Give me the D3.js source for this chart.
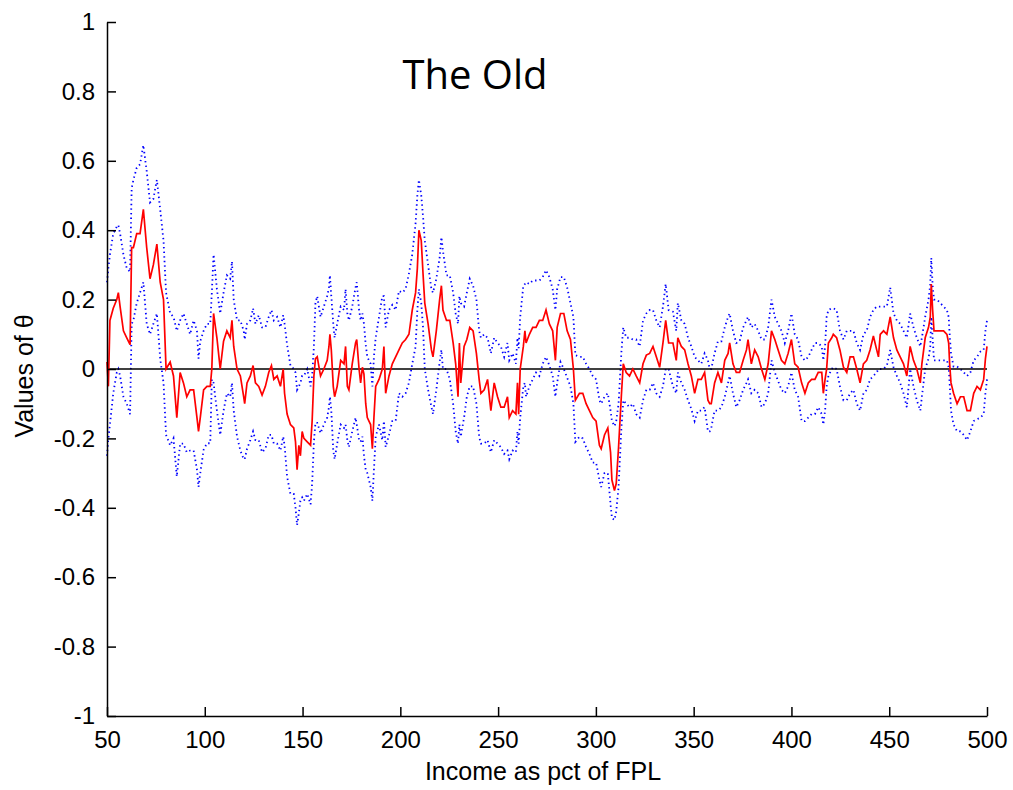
<!DOCTYPE html>
<html>
<head>
<meta charset="utf-8">
<script src="https://cdn.jsdelivr.net/npm/d3@7"></script>
<style>
  html, body { margin: 0; padding: 0; background: #fff; }
  svg { display: block; }
  text { font-family: "Liberation Sans", Arial, sans-serif; fill: #000; }
</style>
</head>
<body>
<svg id="chart" width="1013" height="790"></svg>
<script>
// ---- data ----
const titleText = "The Old";
const xLabel = "Income as pct of FPL";
const yLabel = "Values of θ";
const xTicks = [50, 100, 150, 200, 250, 300, 350, 400, 450, 500];
const yTicks = [-1, -0.8, -0.6, -0.4, -0.2, 0, 0.2, 0.4, 0.6, 0.8, 1];
const yTickLabels = ["-1", "-0.8", "-0.6", "-0.4", "-0.2", "0", "0.2", "0.4", "0.6", "0.8", "1"];

const income = [
  50, 50.7, 51.5, 53.2, 55.0, 55.8, 56.7, 58.4, 60.1, 61.8,
  62.6, 63.5, 65.2, 66.9, 68.6, 70.3, 72.0, 73.7, 75.5, 77.2,
  78.9, 80.2, 82.3, 84.0, 85.7, 87.4, 89.1, 90.8, 92.5, 94.3,
  96.0, 96.8, 97.7, 99.4, 101.1, 102.8, 103.6, 104.5, 106.2, 107.9,
  109.6, 111.3, 113.0, 113.9, 114.8, 116.5, 118.2, 119.9,
  120.4, 121.6, 123.3, 124.7, 125.9, 127.6, 129.3, 131.0, 132.7, 134.1,
  135.3, 137.0, 138.7, 140.1, 140.8, 142.1, 143.8, 145.5, 146.4, 147.2,
  148.1, 148.9, 149.8, 150.7, 152.4, 154.1, 154.9, 155.8, 156.6, 157.5,
  159.2, 160.9, 162.6, 163.5, 164.0, 164.7, 165.7, 166.4, 167.7, 169.5,
  171.2, 172.0, 172.9, 173.7, 175.4, 177.1, 177.7, 178.9, 179.7, 180.6,
  181.4, 182.3, 183.1, 184.8, 185.7, 186.5, 187.4, 189.1,
  190.8, 191.6, 192.5, 194.2, 195.9, 197.6, 199.3, 201.0, 202.7, 204.4,
  206.1, 207.8, 208.7, 209.5, 210.7, 211.6, 212.5, 214.2, 215.9, 216.7,
  218.4, 220.1, 221.0, 221.8, 223.6, 225.3, 227.0, 228.3, 229.5, 230.2,
  230.9, 232.6, 234.0, 235.5, 237.2, 238.9, 240.3, 241.2, 242.9, 244.6,
  246.3, 248.0, 249.7, 251.4, 253.1, 254.8, 255.7, 257.4, 259.1, 259.9,
  260.5, 261.3, 262.9, 263.7,
  264.3, 266.0, 267.7, 269.4, 271.1, 272.8, 274.5, 276.2, 277.9, 279.3,
  280.2, 281.9, 283.6, 285.3, 287.0, 288.5, 289.5, 291.6, 293.3, 295.0,
  296.7, 298.4, 300.1, 301.8, 302.7, 304.4, 306.1, 307.5, 308.2, 309.5,
  310.4, 311.6, 313.0, 314.0, 315.5, 317.2, 318.9, 320.6, 322.4, 324.1,
  325.8, 327.5, 329.2, 330.9, 332.6, 334.3, 335.7, 337.2,
  339.4, 341.1, 341.9, 343.7, 345.4, 347.1, 348.8, 350.5, 352.2, 353.9,
  355.6, 357.3, 358.2, 359.0, 360.7, 362.4, 364.2, 365.9, 367.6, 368.4,
  370.1, 371.8, 373.5, 375.3, 377.0, 377.8, 379.5, 381.2, 383.0, 384.7,
  386.4, 388.1, 389.8, 391.5, 393.2, 394.9, 396.6, 398.3, 400.0, 401.7,
  403.4, 405.2,
  406.9, 408.6, 410.3, 412.0, 413.7, 415.5, 416.3, 417.2, 418.0, 418.9,
  420.6, 421.4, 423.1, 424.8, 426.6, 428.3, 430.0, 431.7, 433.4, 435.1,
  436.8, 438.5, 440.2, 441.9, 443.6, 444.5, 445.4, 447.1, 448.8, 450.5,
  452.2, 453.9, 455.6, 457.3, 459.0, 460.7, 462.4, 464.1, 465.9, 466.7,
  468.4, 470.1, 471.0, 471.5, 472.2, 472.9, 474.4, 476.1, 477.8, 479.5,
  480.4, 480.9, 481.6, 482.9, 484.7, 486.4, 488.1, 489.8, 491.5, 493.2,
  494.9, 496.6, 498.3, 499.2, 500
];

const theta = [
  0.02, -0.05, 0.14, 0.175, 0.20, 0.22, 0.18, 0.11, 0.09, 0.07,
  0.35, 0.35, 0.39, 0.39, 0.46, 0.35, 0.26, 0.30, 0.36, 0.25,
  0.20, 0.0, 0.02, -0.02, -0.14, -0.01, -0.04, -0.08, -0.06, -0.06,
  -0.14, -0.18, -0.14, -0.06, -0.05, -0.05, 0.0, 0.16, 0.09, 0.0,
  0.08, 0.11, 0.09, 0.14, 0.065, 0.0, -0.02, -0.08,
  -0.10, -0.04, -0.02, 0.01, -0.04, -0.05, -0.075, -0.05, -0.01, 0.01,
  -0.03, -0.02, -0.05, 0.0, -0.07, -0.13, -0.16, -0.17, -0.21, -0.29,
  -0.22, -0.25, -0.18, -0.20, -0.21, -0.22, -0.15, -0.02, 0.03, 0.035,
  -0.02, 0.0, 0.025, 0.065, 0.10, 0.055, -0.05, -0.08, -0.05, 0.025,
  0.015, 0.065, -0.05, -0.06, 0.015, 0.075, 0.085, 0.0, -0.04, 0.005,
  -0.015, -0.10, -0.14, -0.16, -0.23, -0.14, -0.05, -0.03,
  0.0, 0.065, -0.07, -0.02, 0.015, 0.035, 0.055, 0.075, 0.085, 0.10,
  0.17, 0.22, 0.29, 0.40, 0.37, 0.275, 0.19, 0.13, 0.055, 0.035,
  0.11, 0.20, 0.24, 0.17, 0.14, 0.14, 0.075, 0.015, -0.08, 0.075,
  -0.04, 0.065, 0.085, 0.12, 0.11, 0.045, -0.03, -0.07, -0.06, -0.03,
  -0.12, -0.04, -0.08, -0.11, -0.11, -0.08, -0.14, -0.12, -0.13, -0.04,
  -0.13, 0.0, 0.065, 0.11,
  0.075, 0.10, 0.12, 0.12, 0.14, 0.14, 0.17, 0.13, 0.11, 0.025,
  0.12, 0.16, 0.16, 0.11, 0.085, 0.0, -0.09, -0.07, -0.07, -0.10,
  -0.12, -0.14, -0.15, -0.22, -0.23, -0.19, -0.17, -0.24, -0.32, -0.35,
  -0.33, -0.225, -0.08, 0.015, -0.01, -0.02, 0.0, -0.02, -0.04, 0.015,
  0.04, 0.045, 0.065, 0.035, 0.005, 0.075, 0.14, 0.075,
  0.075, 0.025, 0.09, 0.065, 0.055, 0.015, -0.02, -0.07, -0.03, -0.03,
  -0.01, -0.09, -0.10, -0.10, -0.04, -0.01, -0.04, 0.025, 0.045, 0.075,
  0.015, -0.01, -0.01, 0.025, 0.055, 0.085, 0.015, 0.055, 0.035, 0.0,
  -0.03, 0.015, 0.11, 0.085, 0.055, 0.025, 0.015, 0.045, 0.085, 0.015,
  0.005, -0.04,
  -0.07, -0.04, -0.03, -0.03, -0.01, -0.01, -0.07, -0.03, 0.0, 0.075,
  0.09, 0.10, 0.09, 0.055, 0.005, -0.01, 0.035, 0.035, 0.0, -0.04,
  0.015, 0.025, 0.055, 0.095, 0.055, 0.035, 0.10, 0.11, 0.10, 0.15,
  0.09, 0.055, 0.035, 0.015, -0.02, 0.065, 0.025, 0.0, -0.04, 0.015,
  0.09, 0.12, 0.15, 0.245, 0.17, 0.11, 0.11, 0.11, 0.11, 0.10,
  0.075, 0.015, -0.04, -0.07, -0.10, -0.08, -0.08, -0.12, -0.12, -0.07,
  -0.05, -0.06, -0.03, 0.03, 0.065
];

const upperBand = [
  0.25, 0.29, 0.33, 0.39, 0.41, 0.415, 0.39, 0.33, 0.29, 0.28,
  0.52, 0.545, 0.58, 0.59, 0.645, 0.57, 0.48, 0.49, 0.545, 0.46,
  0.37, 0.22, 0.16, 0.15, 0.11, 0.14, 0.16, 0.13, 0.10, 0.14,
  0.11, 0.03, 0.08, 0.11, 0.13, 0.13, 0.22, 0.33, 0.23, 0.16,
  0.22, 0.27, 0.26, 0.31, 0.20, 0.14, 0.14, 0.11,
  0.085, 0.13, 0.14, 0.175, 0.13, 0.155, 0.12, 0.12, 0.15, 0.17,
  0.14, 0.15, 0.12, 0.155, 0.13, 0.07, 0.01, 0.0, -0.01, -0.06,
  -0.05, -0.04, -0.02, -0.02, 0.0, -0.05, -0.02, 0.065, 0.19, 0.21,
  0.15, 0.18, 0.21, 0.235, 0.27, 0.21, 0.13, 0.09, 0.13, 0.18,
  0.17, 0.23, 0.16, 0.14, 0.18, 0.235, 0.25, 0.17, 0.14, 0.16,
  0.13, 0.07, 0.035, 0.015, -0.05, 0.035, 0.09, 0.15,
  0.21, 0.21, 0.12, 0.17, 0.185, 0.17, 0.225, 0.22, 0.23, 0.275,
  0.33, 0.42, 0.50, 0.545, 0.50, 0.44, 0.37, 0.30, 0.23, 0.22,
  0.26, 0.32, 0.38, 0.34, 0.27, 0.27, 0.22, 0.16, 0.13, 0.21,
  0.19, 0.18, 0.22, 0.26, 0.24, 0.20, 0.11, 0.09, 0.10, 0.09,
  0.045, 0.09, 0.075, 0.065, 0.035, 0.075, 0.025, 0.045, 0.015, 0.09,
  0.06, 0.15, 0.24, 0.245,
  0.25, 0.245, 0.255, 0.255, 0.255, 0.265, 0.285, 0.265, 0.23, 0.17,
  0.23, 0.265, 0.265, 0.235, 0.19, 0.15, 0.04, 0.035, 0.035, 0.015,
  0.0, -0.02, -0.03, -0.09, -0.10, -0.08, -0.07, -0.12, -0.15, -0.165,
  -0.15, -0.10, 0.045, 0.12, 0.09, 0.09, 0.085, 0.085, 0.065, 0.14,
  0.16, 0.17, 0.17, 0.14, 0.12, 0.18, 0.245, 0.17,
  0.165, 0.11, 0.19, 0.14, 0.13, 0.09, 0.065, 0.035, 0.025, 0.015,
  0.045, 0.025, 0.0, 0.0, 0.045, 0.08, 0.08, 0.12, 0.15, 0.16,
  0.11, 0.075, 0.08, 0.12, 0.14, 0.15, 0.12, 0.13, 0.11, 0.085,
  0.085, 0.12, 0.20, 0.15, 0.13, 0.11, 0.075, 0.11, 0.16, 0.10,
  0.085, 0.035,
  0.025, 0.035, 0.055, 0.075, 0.075, 0.065, 0.025, 0.065, 0.15, 0.17,
  0.175, 0.175, 0.17, 0.11, 0.085, 0.11, 0.11, 0.11, 0.075, 0.055,
  0.10, 0.11, 0.15, 0.17, 0.18, 0.18, 0.18, 0.18, 0.18, 0.235,
  0.16, 0.14, 0.13, 0.11, 0.09, 0.16, 0.12, 0.09, 0.065, 0.09,
  0.15, 0.20, 0.245, 0.32, 0.24, 0.20, 0.20, 0.19, 0.18, 0.17,
  0.15, 0.10, 0.045, 0.007, 0.007, 0.0, -0.01, -0.02, -0.01, 0.025,
  0.035, 0.05, 0.055, 0.11, 0.14
];

const lowerBand = [
  -0.25, -0.20, -0.16, -0.07, -0.01, 0.0, -0.02, -0.08, -0.10, -0.13,
  0.13, 0.14, 0.19, 0.22, 0.25, 0.13, 0.10, 0.13, 0.16, 0.03,
  -0.04, -0.19, -0.22, -0.20, -0.31, -0.215, -0.215, -0.24, -0.235, -0.235,
  -0.29, -0.34, -0.30, -0.233, -0.214, -0.214, -0.03, -0.04, -0.12, -0.19,
  -0.12, -0.07, -0.08, -0.04, -0.12, -0.195, -0.235, -0.26,
  -0.26, -0.23, -0.205, -0.18, -0.205, -0.205, -0.24, -0.23, -0.19, -0.19,
  -0.215, -0.215, -0.235, -0.195, -0.22, -0.31, -0.36, -0.36, -0.40, -0.45,
  -0.415, -0.38, -0.37, -0.38, -0.36, -0.39, -0.33, -0.21, -0.155, -0.155,
  -0.185, -0.16, -0.14, -0.11, -0.08, -0.12, -0.235, -0.26, -0.215, -0.16,
  -0.17, -0.16, -0.205, -0.225, -0.18, -0.14, -0.16, -0.205, -0.21, -0.195,
  -0.25, -0.29, -0.30, -0.34, -0.38, -0.29, -0.195, -0.16,
  -0.205, -0.15, -0.225, -0.19, -0.15, -0.15, -0.07, -0.08, -0.07, -0.04,
  0.015, 0.065, 0.17, 0.23, 0.19, 0.12, 0.0, -0.06, -0.11, -0.13,
  -0.06, 0.02, 0.055, 0.0, 0.0, -0.03, -0.10, -0.18, -0.215, -0.16,
  -0.195, -0.14, -0.08, -0.05, -0.05, -0.10, -0.195, -0.215, -0.215, -0.205,
  -0.24, -0.205, -0.215, -0.225, -0.245, -0.235, -0.26, -0.235, -0.24, -0.18,
  -0.215, -0.14, -0.05, -0.04,
  -0.08, -0.05, -0.03, -0.01, -0.02, 0.015, 0.035, 0.01, -0.02, -0.08,
  -0.04, 0.02, 0.0, -0.025, -0.05, -0.10, -0.21, -0.195, -0.20, -0.225,
  -0.245, -0.27, -0.27, -0.32, -0.34, -0.30, -0.30, -0.39, -0.43, -0.435,
  -0.41, -0.34, -0.175, -0.09, -0.10, -0.11, -0.10, -0.13, -0.14, -0.09,
  -0.06, -0.06, -0.04, -0.07, -0.08, -0.05, 0.0, 0.0,
  -0.05, -0.07, -0.01, -0.04, -0.06, -0.09, -0.115, -0.15, -0.12, -0.12,
  -0.11, -0.18, -0.18, -0.17, -0.12, -0.12, -0.11, -0.08, -0.04, -0.02,
  -0.07, -0.11, -0.09, -0.06, -0.04, -0.03, -0.07, -0.06, -0.07, -0.11,
  -0.10, -0.07, 0.025, -0.01, -0.035, -0.06, -0.07, -0.05, -0.01, -0.06,
  -0.08, -0.15,
  -0.15, -0.14, -0.13, -0.13, -0.11, -0.13, -0.16, -0.12, -0.05, -0.02,
  0.0, 0.005, 0.0, -0.05, -0.09, -0.09, -0.07, -0.06, -0.10, -0.12,
  -0.07, -0.06, -0.03, -0.02, -0.01, 0.0, 0.0, 0.0, 0.01, 0.055,
  0.005, -0.02, -0.04, -0.07, -0.11, 0.0, -0.05, -0.09, -0.12, -0.08,
  0.0, 0.03, 0.065, 0.15, 0.09, 0.025, 0.025, 0.025, 0.025, 0.025,
  0.005, -0.04, -0.12, -0.16, -0.18, -0.18, -0.19, -0.205, -0.18, -0.15,
  -0.145, -0.14, -0.13, -0.07, -0.03
];

// ---- drawing ----
const svg = d3.select("#chart");
const x = d3.scaleLinear().domain([50, 500]).range([107, 987]);
const y = d3.scaleLinear().domain([-1, 1]).range([716, 22]);

const rows = income.map((v, i) => ({ x: v, t: theta[i], u: upperBand[i], l: lowerBand[i] }));

const lineT = d3.line().x(d => x(d.x)).y(d => y(d.t));
const lineU = d3.line().x(d => x(d.x)).y(d => y(d.u));
const lineL = d3.line().x(d => x(d.x)).y(d => y(d.l));

// confidence bands (blue dotted)
[lineU, lineL].forEach(gen => {
  svg.append("path")
    .datum(rows)
    .attr("d", gen)
    .attr("fill", "none")
    .attr("stroke", "#0000ff")
    .attr("stroke-width", 1.8)
    .attr("stroke-dasharray", "1.4 3.2");
});

// zero reference line
svg.append("line")
  .attr("x1", x(50)).attr("x2", x(500))
  .attr("y1", y(0)).attr("y2", y(0))
  .attr("stroke", "#000").attr("stroke-width", 1.6);

// estimate (red)
svg.append("path")
  .datum(rows)
  .attr("d", lineT)
  .attr("fill", "none")
  .attr("stroke", "#ff0000")
  .attr("stroke-width", 1.7)
  .attr("stroke-linejoin", "miter");

// axes
const yAxis = d3.axisLeft(y)
  .tickValues(yTicks)
  .tickFormat((d, i) => yTickLabels[i])
  .tickSizeInner(-9).tickSizeOuter(0).tickPadding(12);
const xAxis = d3.axisBottom(x)
  .tickValues(xTicks)
  .tickFormat(d => String(d))
  .tickSizeInner(-9).tickSizeOuter(0).tickPadding(15);

const gy = svg.append("g").attr("transform", "translate(107,0)").call(yAxis);
const gx = svg.append("g").attr("transform", "translate(0,716)").call(xAxis);
[gx, gy].forEach(g => {
  g.selectAll("path.domain").attr("stroke", "#000").attr("stroke-width", 1.5);
  g.selectAll(".tick line").attr("stroke", "#000").attr("stroke-width", 1.5);
  g.selectAll(".tick text")
    .attr("fill", "#000")
    .style("font-family", "'Liberation Sans', Arial, sans-serif")
    .style("font-size", "24px");
});

// axis labels
svg.append("text")
  .attr("x", 543).attr("y", 780)
  .attr("text-anchor", "middle")
  .style("font-size", "25px")
  .text(xLabel);

svg.append("text")
  .attr("transform", "translate(33,376) rotate(-90)")
  .attr("text-anchor", "middle")
  .style("font-size", "25px")
  .text(yLabel);

// title
svg.append("text")
  .attr("x", 475).attr("y", 89)
  .attr("text-anchor", "middle")
  .style("font-family", "'Open Sans', 'Noto Sans', sans-serif")
  .style("font-size", "40px")
  .text(titleText);
</script>
</body>
</html>
